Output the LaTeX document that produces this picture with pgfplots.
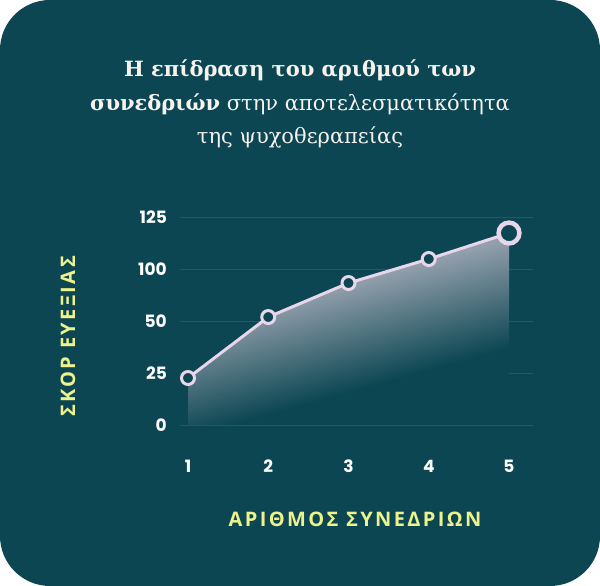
\documentclass[border=0pt]{standalone}
\usepackage{fontspec}
\usepackage{pgfplots}
\pgfplotsset{compat=1.18}
\setmainfont{DejaVu Serif}
\newfontfamily\tickfont{Poppins}
\newfontfamily\labfont{Open Sans}[LetterSpace=12]

\definecolor{bgc}{HTML}{0B4652}
\definecolor{gridc}{HTML}{1F5A66}
\definecolor{linec}{HTML}{E8D6EA}
\definecolor{topc}{HTML}{A8ADBA}
\definecolor{labc}{HTML}{EEF28C}
\definecolor{titc}{HTML}{F6F3EE}

% fill under the line fades out along a slanted axis
\pgfdeclareverticalshading{areafade}{100bp}{color(0bp)=(bgc); color(36bp)=(bgc); color(64bp)=(topc); color(100bp)=(topc)}

\begin{document}
\begin{tikzpicture}[x=1pt,y=1pt]
\fill[bgc, rounded corners=50pt] (0,0) rectangle (600,586);

\node[anchor=base, text=titc, font=\fontsize{21}{25}\selectfont\bfseries] at (300,509) {Η επίδραση του αριθμού των};
\node[anchor=base, text=titc, font=\fontsize{21}{25}\selectfont] at (300,475) {\textbf{συνεδριών} στην αποτελεσματικότητα};
\node[anchor=base, text=titc, font=\fontsize{21}{25}\selectfont] at (300,442) {της ψυχοθεραπείας};

\begin{axis}[
    at={(180pt,161pt)}, anchor=south west,
    scale only axis, width=353pt, height=208pt,
    xmin=0.9003, xmax=5.299, ymin=0, ymax=125,
    y coord trafo/.code={\pgfmathparse{#1<=50 ? #1/25 : (#1<=100 ? 2+(#1-50)/50 : 3+(#1-100)/25)}},
    ytick={0,25,50,100,125},
    yticklabels={0,25,50,100,125},
    xtick={1,2,3,4,5},
    axis line style={draw=none},
    major tick length=0pt,
    ymajorgrids,
    grid style={gridc, line width=0.9pt},
    /pgf/number format/assume math mode=true,
    ticklabel style={font=\tickfont\bfseries\fontsize{17}{17}\selectfont, text=white},
    xticklabel style={anchor=base, yshift=-48pt, inner sep=0pt},
    yticklabel style={anchor=east, xshift=-13pt, inner sep=0pt},
    clip=false,
]
\addplot[draw=none, shading=areafade, shading angle=15.5, forget plot]
    coordinates {(1,22.6) (2,53.8) (3,86.5) (4,104.8) (5,117.3)} \closedcycle;
\addplot[linec, line width=3pt, mark=*, mark size=6.5pt,
    mark options={fill=bgc, draw=linec, line width=3pt}]
    coordinates {(1,22.6) (2,53.8) (3,86.5) (4,104.8) (5,117.3)};
\addplot[only marks, mark=*, mark size=10.4pt,
    mark options={fill=bgc, draw=linec, line width=4.5pt}]
    coordinates {(5,117.3)};
\end{axis}

\node[rotate=90, anchor=base, text=labc, font=\labfont\bfseries\fontsize{20}{20}\selectfont] at (75,249.5) {ΣΚΟΡ ΕΥΕΞΙΑΣ};
\node[anchor=base, text=labc, font=\labfont\bfseries\fontsize{20}{20}\selectfont] at (355,59) {ΑΡΙΘΜΟΣ ΣΥΝΕΔΡΙΩΝ};
\end{tikzpicture}
\end{document}
